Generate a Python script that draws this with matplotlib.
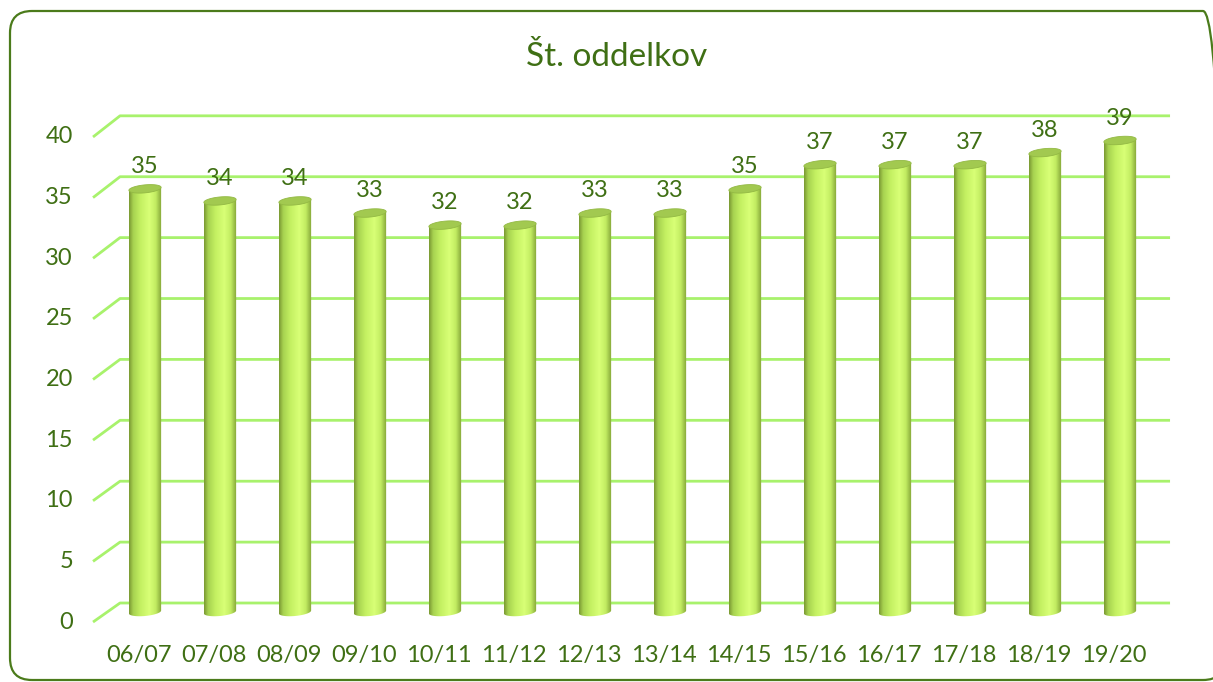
import numpy as np
import matplotlib
matplotlib.use('Agg')
import matplotlib.pyplot as plt
from matplotlib.patches import PathPatch, Polygon, FancyBboxPatch
from matplotlib.path import Path
from matplotlib.colors import LinearSegmentedColormap
from matplotlib.transforms import IdentityTransform

years = ['06/07', '07/08', '08/09', '09/10', '10/11', '11/12', '12/13',
         '13/14', '14/15', '15/16', '16/17', '17/18', '18/19', '19/20']
classes = [35, 34, 34, 33, 32, 32, 33, 33, 35, 37, 37, 37, 38, 39]
y_ticks = [0, 5, 10, 15, 20, 25, 30, 35, 40]

text_col = '#3f6f14'
grid_col = '#a8f26c'
plt.rcParams['font.family'] = ['Lato', 'DejaVu Sans']

fig = plt.figure(figsize=(12.13, 6.82), dpi=100)
ax = fig.add_axes([0, 0, 1, 1])
ax.set_axis_off()

# rounded frame (pixel coords)
frame = FancyBboxPatch((10, 2), 1215, 669, boxstyle='round,pad=0,rounding_size=22',
                       transform=IdentityTransform(), facecolor='none',
                       edgecolor='#4b7b1b', linewidth=1.6, zorder=10)
fig.patches.append(frame)

# back wall gridlines with the little perspective step on the left
for t in y_ticks:
    back = 0.744 + t * 1.0074
    front = -0.83 + t * 1.003
    ax.plot([-0.693, -0.333, 13.667], [front, back, back], color=grid_col,
            lw=2.0, solid_capstyle='butt', zorder=1)
    ax.text(-0.96, front, str(t), ha='right', va='center', fontsize=17, color=text_col)

# cylinder shading
cmap = LinearSegmentedColormap.from_list('cyl', [
    (0.0, '#7b9a33'), (0.12, '#a7d250'), (0.35, '#c4f062'),
    (0.62, '#d8ff76'), (0.82, '#c2ec62'), (1.0, '#82a336')])
grad = np.linspace(0, 1, 64).reshape(1, -1)

w = 0.215
h = 0.66
tilt = 0.12
ang = np.linspace(np.pi, 2 * np.pi, 40)
ang_full = np.linspace(0, 2 * np.pi, 80)

for i, v in enumerate(classes):
    xs_b = i + w * np.cos(ang)
    ys_b = h / 2 * np.sin(ang) + tilt * np.cos(ang)
    verts = [(i - w, v - tilt)] + list(zip(xs_b, ys_b)) + [(i + w, v + tilt), (i - w, v - tilt)]
    codes = [Path.MOVETO] + [Path.LINETO] * (len(verts) - 2) + [Path.CLOSEPOLY]
    body = PathPatch(Path(verts, codes), facecolor='none', edgecolor='none')
    ax.add_patch(body)
    im = ax.imshow(grad, cmap=cmap, aspect='auto', extent=(i - w, i + w, -h, v + h),
                   interpolation='bilinear', zorder=3)
    im.set_clip_path(body)

    top = Polygon(np.column_stack([i + w * np.cos(ang_full),
                                   v + h / 2 * np.sin(ang_full) + tilt * np.cos(ang_full)]),
                  closed=True, facecolor='#a2c950', edgecolor='#93b944', lw=0.6, zorder=4)
    ax.add_patch(top)

    ax.annotate(str(v), xy=(i, v), xytext=(0, 16), textcoords='offset points',
                ha='center', va='center', fontsize=17, color=text_col, zorder=5)
    ax.text(i - 0.08, -3.56, years[i], ha='center', va='center', fontsize=17, color=text_col)

ax.set_xlim(-1.9333, 14.24)
ax.set_ylim(-5.79, 50.62)

fig.text(0.5087, 0.9164, 'Št. oddelkov', ha='center', va='center', fontsize=24, color=text_col)

fig.savefig('out.png', dpi=100)
